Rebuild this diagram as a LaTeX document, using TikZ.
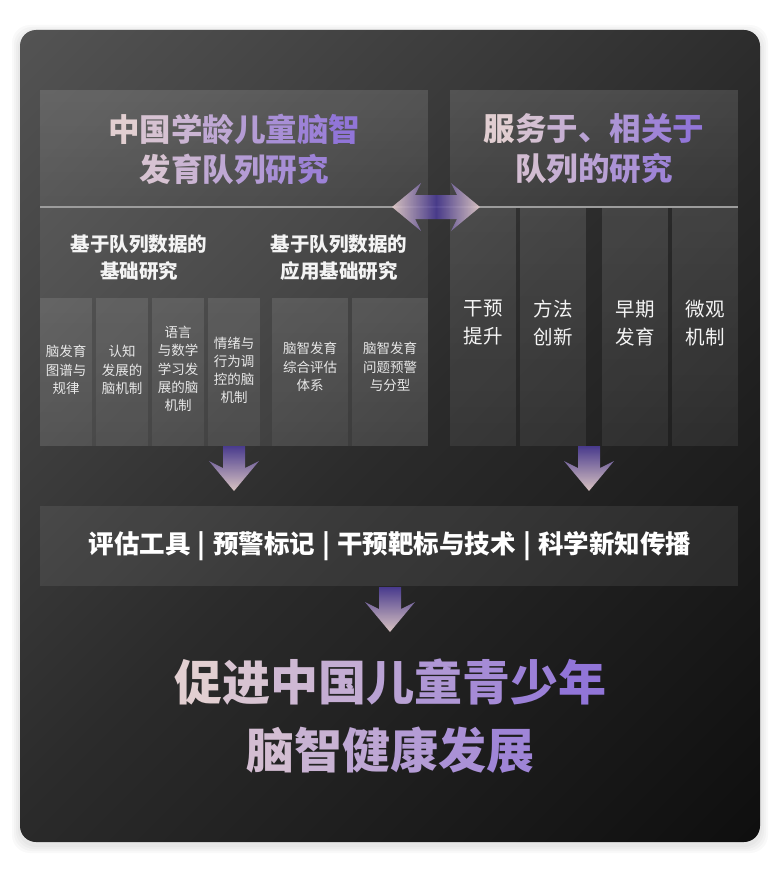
\documentclass[tikz,border=0pt]{standalone}
\usepackage{fontspec}
\setmainfont{Noto Sans CJK SC}
\usetikzlibrary{fadings}
\definecolor{pinkc}{HTML}{E8D5D0}
\definecolor{purc}{HTML}{8B6FD9}
\definecolor{apink}{HTML}{E3CCCB}
\definecolor{apur}{HTML}{4B3C93}
\definecolor{linec}{HTML}{9C9C9C}
\definecolor{bgA}{HTML}{030303}
\definecolor{bgM}{HTML}{2B2B2B}
\definecolor{bgB}{HTML}{646464}
\definecolor{txtw}{HTML}{F4F4F4}
\tikzfading[name=topfade, top color=transparent!0, bottom color=transparent!100]
\pgfdeclareverticalshading{bgshade}{100bp}{color(0bp)=(bgA); color(50bp)=(bgM); color(100bp)=(bgB)}
\newcommand{\gc}[2]{\textcolor{purc!#1!pinkc}{#2}}
\newcommand{\sepbar}{ \hspace{1.4pt}|\hspace{1.4pt} }
\begin{document}
\begin{tikzpicture}[x=1pt,y=-1pt,
  panel/.style={fill=white, fill opacity=0.08},
  subpanel/.style={fill=white, fill opacity=0.055},
  colpanel/.style={fill=white, fill opacity=0.07},
  glow/.style={fill=white, fill opacity=0.06, path fading=topfade},
  hdr/.style={font=\bfseries\fontsize{31.5}{40}\selectfont, align=center, inner sep=0pt},
  subhdr/.style={font=\bfseries\fontsize{19.5}{27}\selectfont, text=txtw, align=center, inner sep=0pt},
  small/.style={font=\fontsize{13.5}{18.2}\selectfont, text=txtw!95!black, align=center, inner sep=0pt},
  coltxt/.style={font=\fontsize{19.5}{28}\selectfont, text=txtw, align=center, inner sep=0pt},
  bartxt/.style={font=\bfseries\fontsize{25.5}{30}\selectfont, text=white, inner sep=0pt},
  bigtxt/.style={font=\bfseries\fontsize{48}{68}\selectfont, align=center, inner sep=0pt},
  downarrow/.style={top color=apur, bottom color=apink, draw=none, fill opacity=0.95},
  dblarrow/.style={left color=apink, right color=apink, middle color=apur, draw=none, fill opacity=0.9}
]
\useasboundingbox (0,0) rectangle (780,880);
\fill[white] (0,0) rectangle (780,880);
% soft shadow
\foreach \d in {2,4,6,8}{
  \fill[black, fill opacity=0.025, rounded corners=18pt] (20-\d,30-\d+3) rectangle (760+\d,842+\d+3);
}
% background
\shade[shading=bgshade, shading angle=45, rounded corners=16pt] (20,30) rectangle (760,842);

% left big panel and right header
\fill[panel] (40,90) rectangle (428,446);
\fill[glow] (40,90) rectangle (428,207);
\fill[panel] (450,90) rectangle (738,207);
\fill[glow] (450,90) rectangle (738,207);

% left sub panels
\foreach \a/\b in {40/92,96/148,152/204,208/260,272/348,352/428}{
  \fill[subpanel] (\a,298) rectangle (\b,446);
  \fill[glow] (\a,298) rectangle (\b,446);
}
% right columns
\foreach \a/\b in {450/516,520/586,602/668,672/738}{
  \fill[colpanel] (\a,208) rectangle (\b,446);
  \fill[glow] (\a,208) rectangle (\b,446);
}
% bar
\fill[panel] (40,506) rectangle (738,586);

% divider line
\coordinate (lineL) at (40,207);
\coordinate (lineR) at (738,207);
\draw[linec, line width=1.6pt] (lineL) -- (lineR);

% double arrow
\shade[dblarrow] (392,207) -- (421,183) -- (415,195) -- (457,195) -- (451,183) -- (480,207)
  -- (451,231) -- (457,219) -- (415,219) -- (421,231) -- cycle;

% down arrows
\foreach \cx/\ty in {234/446,589/446,390/587}{
  \shade[downarrow] (\cx-11,\ty) -- (\cx+11,\ty) -- (\cx+11,\ty+22) -- (\cx+25,\ty+15)
    -- (\cx,\ty+45) -- (\cx-25,\ty+15) -- (\cx-11,\ty+22) -- cycle;
}

% headers
\node[hdr] (lh) at (234,149) {\gc{6}{中}\gc{19}{国}\gc{31}{学}\gc{44}{龄}\gc{56}{儿}\gc{69}{童}\gc{81}{脑}\gc{94}{智}\\
  \gc{18}{发}\gc{31}{育}\gc{44}{队}\gc{56}{列}\gc{69}{研}\gc{81}{究}};
\node[hdr] (rh) at (594,149) {\gc{7}{服}\gc{21}{务}\gc{36}{于}\gc{50}{、}\gc{64}{相}\gc{79}{关}\gc{93}{于}\\
  \gc{23}{队}\gc{37}{列}\gc{51}{的}\gc{65}{研}\gc{78}{究}};

% sub headers
\node[subhdr] (sh1) at (139,258) {基于队列数据的\\基础研究};
\node[subhdr] (sh2) at (339,258) {基于队列数据的\\应用基础研究};

% sub panel texts
\node[small] (s1) at (66,370) {脑发育\\图谱与\\规律};
\node[small] (s2) at (122,370) {认知\\发展的\\脑机制};
\node[small] (s3) at (178,369) {语言\\与数学\\学习发\\展的脑\\机制};
\node[small] (s4) at (234,370.5) {情绪与\\行为调\\控的脑\\机制};
\node[small] (s5) at (310,367) {脑智发育\\综合评估\\体系};
\node[small] (s6) at (390,367) {脑智发育\\问题预警\\与分型};

% right column texts
\node[coltxt] (c1) at (483,323) {干预\\提升};
\node[coltxt] (c2) at (553,323) {方法\\创新};
\node[coltxt] (c3) at (635,323) {早期\\发育};
\node[coltxt] (c4) at (705,323) {微观\\机制};

% bar text
\node[bartxt] (bar) at (390,546) {评估工具\sepbar 预警标记\sepbar 干预靶标与技术\sepbar 科学新知传播};

% bottom text
\node[bigtxt] (big) at (390,716) {\gc{6}{促}\gc{17}{进}\gc{28}{中}\gc{39}{国}\gc{50}{儿}\gc{61}{童}\gc{72}{青}\gc{83}{少}\gc{94}{年}\\
  \gc{23}{脑}\gc{34}{智}\gc{45}{健}\gc{56}{康}\gc{67}{发}\gc{78}{展}};
\end{tikzpicture}
\end{document}
